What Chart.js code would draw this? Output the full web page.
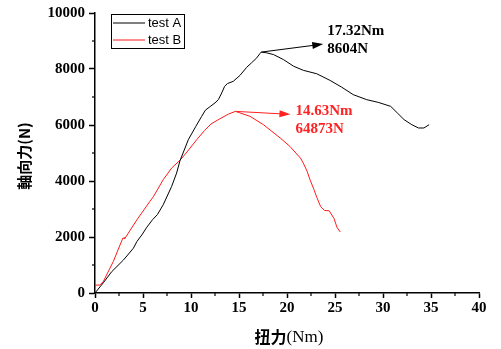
<!DOCTYPE html>
<html><head><meta charset="utf-8">
<script src="https://cdn.jsdelivr.net/npm/chart.js@4"></script>
<style>html,body{margin:0;padding:0;background:#fff}#wrap{width:501px;height:349px}</style>
</head><body><div id="wrap"><canvas id="c" width="501" height="349"></canvas></div>
<script>
const seriesNames = ['test A', 'test B'];
const testA_x = [0,0.9,1.74,2.97,4.0,4.36,4.88,5.4,6.0,6.5,7.1,7.98,8.5,8.85,9.72,10.5,11.11,11.5,12.0,12.5,12.85,13.2,13.5,13.8,14.4,15.1,15.8,16.3,16.85,17.2,17.32,17.9,18.6,19.63,20.7,21.7,23.1,24.5,25.7,26.9,28.3,29.5,30.8,31.5,32.2,33.0,33.7,34.26,34.8];
const testA_y = [0,380,762,1180,1600,1836,2075,2350,2620,2800,3148,3803,4283,4720,5474,5950,6308,6530,6660,6790,6905,7145,7380,7480,7560,7770,8060,8218,8397,8560,8604,8576,8515,8336,8097,7953,7830,7590,7350,7084,6905,6809,6666,6429,6190,6011,5893,5893,6011];
const testB_x = [0,0.5,0.85,1.9,2.9,3.15,3.0,3.13,4.36,5.71,6.1,7.1,7.98,8.85,9.5,10.59,11.4,12.1,13.0,13.9,14.63,16.16,17.55,19.3,20.3,21.4,21.7,22.1,22.4,22.8,23.1,23.5,23.9,24.4,24.9,25.2,25.55];
const testB_y = [280,285,400,1120,1960,1960,1950,1957,2612,3267,3450,4043,4461,4740,5000,5474,5800,6040,6220,6390,6487,6308,6011,5534,5235,4819,4640,4340,4043,3700,3420,3088,2950,2934,2660,2350,2180];
const xTicks = [0,5,10,15,20,25,30,35,40];
const yTicks = [0,2000,4000,6000,8000,10000];
const peakLabels = [['17.32Nm','8604N'], ['14.63Nm','64873N']];
const peakIndexA = testA_y.indexOf(Math.max(...testA_y));
const peakIndexB = testB_y.indexOf(Math.max(...testB_y));
const colors = ['#000000', '#ff1a1a'];

function pts(xs, ys){ return xs.map((x,i)=>({x:x, y:ys[i]})); }

const decor = {
  id: 'decor',
  afterDraw(chart){
    const ctx = chart.ctx, xs = chart.scales.x, ys = chart.scales.y, ca = chart.chartArea;
    ctx.save();
    ctx.strokeStyle = '#000'; ctx.lineWidth = 1.2;
    for (let v = 2.5; v < 40; v += 5){
      const px = xs.getPixelForValue(v);
      ctx.beginPath(); ctx.moveTo(px, ca.bottom); ctx.lineTo(px, ca.bottom + 3); ctx.stroke();
    }
    for (let v = 1000; v < 10000; v += 2000){
      const py = ys.getPixelForValue(v);
      ctx.beginPath(); ctx.moveTo(ca.left, py); ctx.lineTo(ca.left - 3, py); ctx.stroke();
    }
    ctx.lineWidth = 1; ctx.strokeStyle = '#000';
    ctx.strokeRect(111.5, 14.5, 73, 34);
    ctx.font = '13px "Liberation Sans", Arial, sans-serif';
    ctx.textBaseline = 'middle'; ctx.textAlign = 'left';
    [23, 40].forEach((yy, i) => {
      ctx.strokeStyle = colors[i]; ctx.lineWidth = 1;
      ctx.beginPath(); ctx.moveTo(113, yy); ctx.lineTo(145, yy); ctx.stroke();
      ctx.fillStyle = '#000';
      ctx.fillText(seriesNames[i], 148, yy + 0.5);
    });
    const arrows = [
      {x: testA_x[peakIndexA], y: testA_y[peakIndexA], dx: 62, dy: -8, col: colors[0], lab: peakLabels[0], tx: 4, t1: -9, t2: 9},
      {x: testB_x[peakIndexB], y: testB_y[peakIndexB], dx: 55, dy: 3, col: '#f22', lab: peakLabels[1], tx: 5, t1: 1, t2: 19}
    ];
    arrows.forEach(a => {
      const x0 = xs.getPixelForValue(a.x), y0 = ys.getPixelForValue(a.y);
      const x1 = x0 + a.dx, y1 = y0 + a.dy;
      ctx.strokeStyle = a.col; ctx.fillStyle = a.col; ctx.lineWidth = 1;
      ctx.beginPath(); ctx.moveTo(x0, y0); ctx.lineTo(x1 - 8, y1 - 8*a.dy/a.dx); ctx.stroke();
      const ang = Math.atan2(a.dy, a.dx);
      ctx.beginPath();
      ctx.moveTo(x1, y1);
      ctx.lineTo(x1 - 11*Math.cos(ang) + 3.5*Math.sin(ang), y1 - 11*Math.sin(ang) - 3.5*Math.cos(ang));
      ctx.lineTo(x1 - 11*Math.cos(ang) - 3.5*Math.sin(ang), y1 - 11*Math.sin(ang) + 3.5*Math.cos(ang));
      ctx.closePath(); ctx.fill();
      ctx.font = 'bold 15px "Liberation Serif", "Times New Roman", serif';
      ctx.textAlign = 'left'; ctx.textBaseline = 'alphabetic';
      ctx.fillText(a.lab[0], x1 + a.tx, y1 + a.t1);
      ctx.fillText(a.lab[1], x1 + a.tx, y1 + a.t2);
    });
    ctx.fillStyle = '#000';
    ctx.save();
    ctx.translate(24, 156);
    ctx.rotate(-Math.PI/2);
    ctx.textAlign = 'center'; ctx.textBaseline = 'middle';
    ctx.font = 'bold 15px "Noto Sans CJK TC", "Noto Sans CJK SC", sans-serif';
    ctx.fillText('軸向力(N)', 0, 0);
    ctx.restore();
    ctx.textBaseline = 'middle'; ctx.textAlign = 'left';
    ctx.font = 'bold 16px "Noto Sans CJK SC", sans-serif';
    const t1 = '扭力';
    const w1 = ctx.measureText(t1).width;
    ctx.font = '17px "Liberation Serif", "Times New Roman", serif';
    const t2 = '(Nm)';
    const w2 = ctx.measureText(t2).width;
    const sx = 289 - (w1 + w2)/2;
    ctx.font = 'bold 16px "Noto Sans CJK SC", sans-serif';
    ctx.fillText(t1, sx, 337);
    ctx.font = '17px "Liberation Serif", "Times New Roman", serif';
    ctx.fillText(t2, sx + w1, 338);
    ctx.restore();
  }
};

const tickFont = {family: '"Liberation Serif", "Times New Roman", serif', size: 15, weight: 'bold'};

new Chart(document.getElementById('c'), {
  type: 'scatter',
  data: {
    datasets: [
      {label: seriesNames[0], data: pts(testA_x, testA_y), showLine: true, borderColor: colors[0], borderWidth: 1, pointRadius: 0, tension: 0},
      {label: seriesNames[1], data: pts(testB_x, testB_y), showLine: true, borderColor: colors[1], borderWidth: 1, pointRadius: 0, tension: 0}
    ]
  },
  options: {
    responsive: false, animation: false, devicePixelRatio: 1,
    layout: {padding: {top: 13, right: 22, left: 0, bottom: 0}},
    plugins: {legend: {display: false}, tooltip: {enabled: false}},
    scales: {
      x: {
        type: 'linear', min: 0, max: 40,
        afterBuildTicks: s => { s.ticks = xTicks.map(v => ({value: v})); },
        afterFit: s => { s.height = 56; },
        ticks: {font: tickFont, color: '#000', padding: 1, maxRotation: 0, callback: v => String(v)},
        grid: {drawOnChartArea: false, tickLength: 5, tickColor: '#000', tickWidth: 1.5},
        border: {color: '#000', width: 1.5}
      },
      y: {
        type: 'linear', min: 0, max: 10000,
        afterBuildTicks: s => { s.ticks = yTicks.map(v => ({value: v})); },
        afterFit: s => { s.width = 95; },
        ticks: {font: tickFont, color: '#000', padding: 4, callback: v => String(v)},
        grid: {drawOnChartArea: false, tickLength: 6, tickColor: '#000', tickWidth: 1.5},
        border: {color: '#000', width: 1.5}
      }
    }
  },
  plugins: [decor]
});
</script>
</body></html>
